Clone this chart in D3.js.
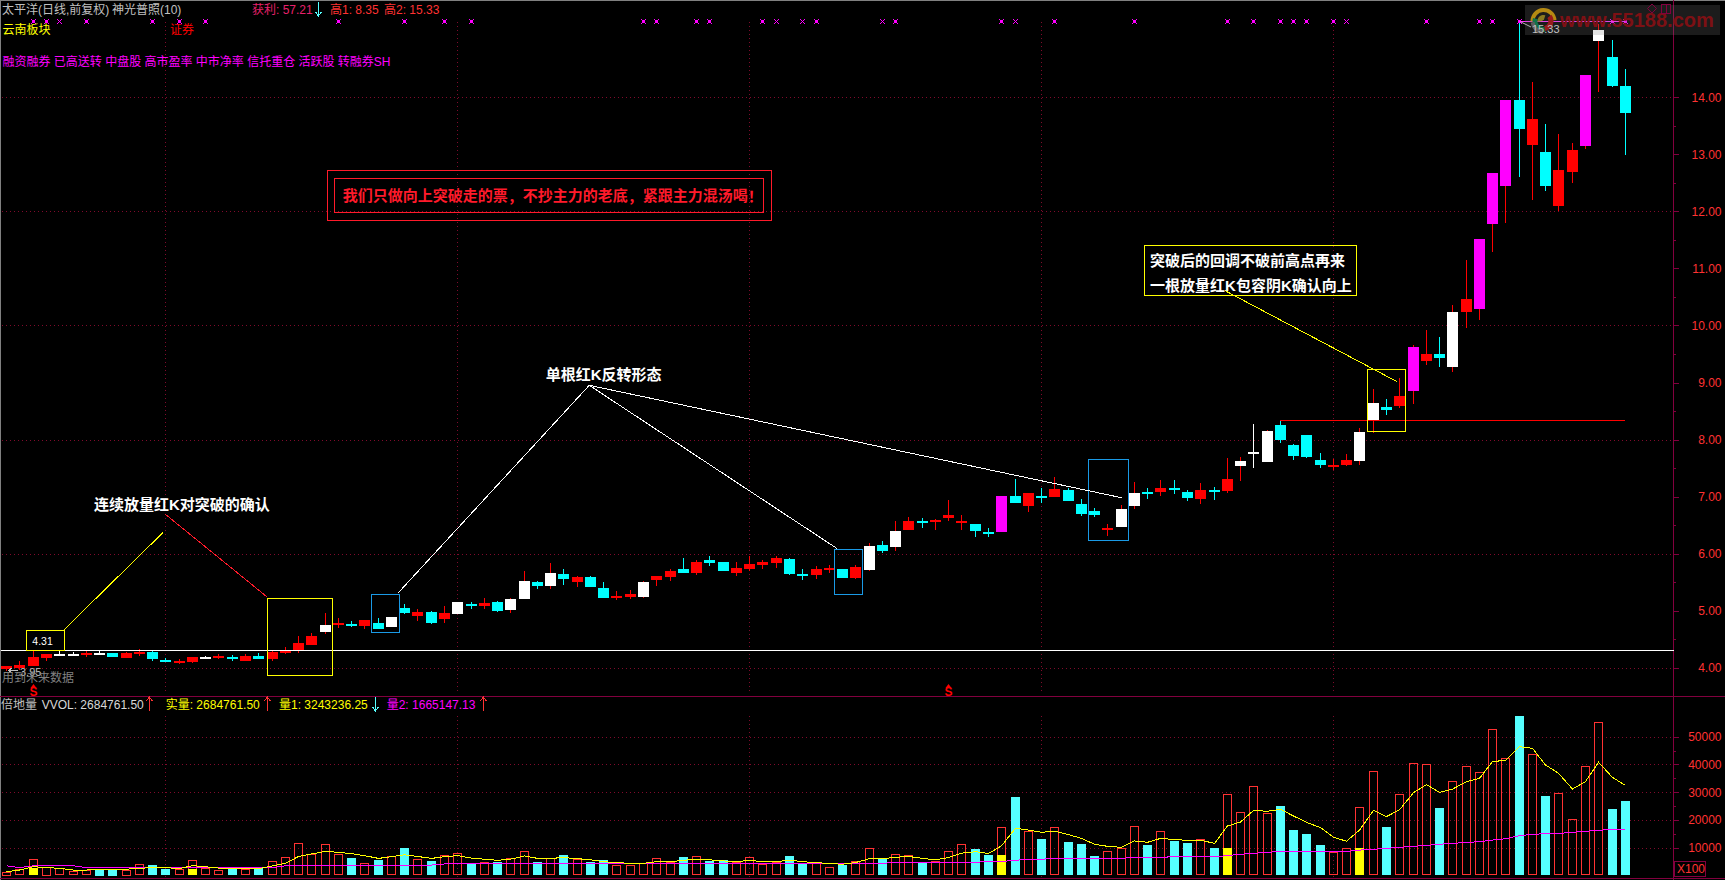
<!DOCTYPE html>
<html lang="zh">
<head>
<meta charset="utf-8">
<title>太平洋 日线 神光普照</title>
<script src="https://cdn.jsdelivr.net/npm/d3@7/dist/d3.min.js"></script>
<style>
  html, body { margin: 0; padding: 0; background: #000; overflow: hidden; }
  svg { display: block; }
  text { font-family: "Liberation Sans", "Noto Sans CJK SC", sans-serif; dominant-baseline: central; }
  .crisp, .crisp * { shape-rendering: crispEdges; }
</style>
</head>
<body>
<svg id="chart" width="1725" height="880"></svg>
<script>
// Candle kinds: r red, c cyan, w white body with red wick, W all-white doji, m magenta body with red wick
const candleKinds = (
  "rrrrWWrWcr" + "rccrrWrcrc" + "rrrrwrcrcw" + "crcrwcrcww" + "cwcrccrrwr" +
  "rcrccrrrrc" + "crrcrwcwrc" + "rrrccmcrcr" + "cccrwwcrcc" + "rcrwWwcccc" +
  "rrwwcrmrcw" + "rmmmcrcrrm" + "wcc").split("");

const bodyUpper = [
  4.03,4.05,4.19,4.24,4.245,4.245,4.26,4.265,4.26,4.26,
  4.28,4.28,4.14,4.12,4.18,4.185,4.205,4.19,4.205,4.205,
  4.275,4.29,4.43,4.555,4.75,4.78,4.76,4.84,4.78,4.89,
  5.05,4.98,4.98,4.96,5.15,5.11,5.135,5.152,5.205,5.52,
  5.50,5.66,5.643,5.59,5.59,5.40,5.257,5.29,5.50,5.61,
  5.695,5.73,5.853,5.89,5.853,5.748,5.82,5.853,5.923,5.906,
  5.643,5.73,5.74,5.73,5.766,6.133,6.15,6.397,6.57,6.57,
  6.59,6.677,6.57,6.52,6.38,7.01,7.01,7.06,7.01,7.133,
  7.115,6.87,6.747,6.45,6.78,7.063,7.08,7.15,7.15,7.08,
  7.115,7.115,7.308,7.62,7.787,8.15,8.249,7.904,8.08,7.641,
  7.553,7.641,8.132,8.64,8.57,8.763,9.62,9.499,9.499,10.236,
  10.464,11.516,12.673,13.953,13.953,13.62,13.04,12.725,13.076,14.39,
  15.18,14.706,14.198];

const bodyLower = [
  3.97,4.00,4.03,4.17,4.235,4.235,4.23,4.255,4.19,4.175,
  4.245,4.15,4.10,4.09,4.10,4.175,4.175,4.16,4.12,4.15,
  4.15,4.26,4.31,4.40,4.625,4.75,4.75,4.73,4.68,4.71,
  4.96,4.91,4.78,4.85,4.94,5.10,5.082,4.994,5.012,5.205,
  5.43,5.43,5.555,5.50,5.415,5.22,5.22,5.24,5.24,5.54,
  5.59,5.66,5.66,5.836,5.695,5.66,5.73,5.80,5.836,5.643,
  5.608,5.625,5.72,5.573,5.573,5.713,6.046,6.116,6.414,6.537,
  6.555,6.625,6.537,6.397,6.344,6.38,6.887,6.835,6.98,6.993,
  6.923,6.695,6.677,6.414,6.467,6.835,7.045,7.08,7.115,6.975,
  6.957,7.08,7.098,7.536,7.764,7.606,7.99,7.711,7.694,7.553,
  7.518,7.553,7.624,8.343,8.518,8.588,8.85,9.377,9.43,9.27,
  10.236,10.288,11.78,12.445,13.444,13.163,12.445,12.094,12.69,13.146,
  14.987,14.198,13.725];

const highs = [
  4.03,4.11,4.31,4.24,4.29,4.28,4.29,4.30,4.26,4.28,
  4.33,4.30,4.175,4.15,4.18,4.21,4.24,4.23,4.24,4.26,
  4.31,4.37,4.555,4.61,4.96,4.88,4.81,4.84,4.87,4.89,
  5.12,5.03,5.00,5.08,5.15,5.15,5.22,5.17,5.22,5.695,
  5.52,5.836,5.73,5.61,5.61,5.50,5.345,5.36,5.52,5.61,
  5.73,5.92,5.89,5.96,5.853,5.853,5.96,5.89,5.96,5.92,
  5.73,5.783,5.80,5.73,5.80,6.186,6.22,6.57,6.64,6.625,
  6.607,6.94,6.677,6.52,6.45,7.01,7.308,7.06,7.15,7.343,
  7.15,6.957,6.80,6.52,6.85,7.256,7.15,7.29,7.29,7.115,
  7.24,7.168,7.676,7.694,8.27,8.17,8.34,7.92,8.08,7.758,
  7.66,7.746,8.202,8.886,8.71,9.08,9.657,9.92,9.797,10.36,
  11.148,11.516,12.673,13.953,15.33,14.27,13.53,13.357,13.2,14.39,
  15.285,15.0,14.5];

const lows = [
  3.95,3.96,4.03,4.12,4.205,4.205,4.19,4.245,4.19,4.17,
  4.205,4.12,4.10,4.065,4.08,4.15,4.15,4.12,4.11,4.15,
  4.12,4.245,4.26,4.40,4.59,4.70,4.70,4.68,4.68,4.71,
  4.94,4.82,4.78,4.78,4.94,5.03,5.03,4.977,4.96,5.205,
  5.38,5.38,5.45,5.415,5.415,5.22,5.187,5.205,5.22,5.43,
  5.52,5.66,5.625,5.78,5.695,5.61,5.695,5.73,5.748,5.625,
  5.54,5.555,5.66,5.573,5.555,5.70,6.01,6.046,6.414,6.45,
  6.414,6.57,6.414,6.29,6.29,6.38,6.887,6.73,6.887,6.993,
  6.923,6.66,6.64,6.31,6.467,6.78,6.957,7.01,7.045,6.923,
  6.87,6.94,7.063,7.273,7.50,7.606,7.94,7.64,7.676,7.50,
  7.465,7.536,7.553,8.115,8.43,8.553,8.623,9.306,9.27,9.184,
  9.955,10.096,11.288,11.796,12.6,12.2,12.357,12.0,12.497,13.093,
  14.093,14.18,13.0];

// Volume bars, in units of 100 shares: u hollow red, d solid cyan
const volumeKinds = (
  "uuuuuuuddu" + "udduuuudud" + "uuuuuududu" + "duduududuu" + "dududduuuu" +
  "ududduuuud" + "duuduuduud" + "uuuddududu" + "ddduuududd" + "uduuuudddd" +
  "uuuuduuudu" + "uuuududuuu" + "udd").split("");

const volumes = [
  1300,2200,5800,3100,2500,1600,1800,2000,2000,2000,
  4000,3700,2300,2300,5400,2600,1800,2500,2200,2600,
  5000,6500,11500,7600,11200,7600,6200,4300,5500,6800,
  9900,5800,5200,7200,7900,4400,4700,4800,6100,8600,
  4800,6100,7300,5800,4800,5500,3600,3600,4300,6100,
  4800,6600,6800,5200,5500,4800,6500,4000,4800,7000,
  4300,4300,2900,3700,5000,9700,6100,7600,7200,4700,
  5000,8600,11200,9500,7300,17300,28200,15900,13100,17300,
  12000,11300,7000,8600,9700,17700,10900,15900,12400,11700,
  13000,9900,29200,22700,32100,22400,24900,16300,14900,10900,
  8400,9700,24500,37500,17400,29200,40400,40000,24300,33900,
  39300,37100,52700,42200,57500,43600,28600,29600,20200,39300,
  55200,23900,26847.6];

// Solid yellow portion of a few volume bars
const yellowBarIndex = [2, 14, 75, 92, 102];
const yellowBarValue = [2500, 2200, 7300, 9900, 9900];

const volumeFast = [
  1300,1900,3100,2800,2500,1900,1900,2200,2200,2200,
  2500,2800,2800,2400,3500,3100,2600,2300,2300,2400,
  3400,4300,6800,7700,8600,8300,7800,7100,6100,6700,
  7400,6800,6100,6700,7100,6200,5800,5400,5800,7000,
  6100,6100,6400,6000,5600,4900,4600,4300,4300,4900,
  4900,5400,5800,5600,5200,4900,5400,4900,4900,5500,
  4900,4600,4200,4000,4600,6000,6000,6500,6800,6100,
  5600,6400,8000,8500,7900,10600,17000,16300,15500,15900,
  14700,13300,11200,10450,10100,12400,11900,13300,12900,12600,
  12700,11500,17800,19200,23400,23100,23800,21400,19100,17200,
  13700,12300,16300,23400,21200,23600,29800,32700,29900,31100,
  33800,35000,41000,41500,46400,45800,39800,36800,31100,33800,
  40800,35300,32432.36];

const volumeSlow = [
  3400,2800,3400,3400,3400,3400,2800,2800,2800,2800,
  2800,2800,2800,2800,2800,2800,2800,2800,2800,2800,
  2800,3400,3400,3400,3400,3700,3700,3700,3700,3700,
  3700,3700,3700,4100,4100,4100,4100,4100,4100,4100,
  4300,4300,4300,4300,4300,4300,4300,4300,4300,4300,
  4300,4300,4300,4300,4300,4300,4300,4300,4300,4300,
  4300,4300,4300,4300,4300,4300,4300,4700,4700,4700,
  4700,4700,4700,4700,5000,5000,5400,5800,5800,6100,
  6100,6100,6100,6100,6100,6500,6500,6500,6700,6700,
  6700,6700,7100,7600,7900,8300,8600,8600,8600,8600,
  8600,8600,9100,9400,9700,10100,10450,10800,11200,11500,
  11900,12100,12700,13200,14300,14800,15000,15100,15500,15900,
  16200,16600,16651.47];

// Signal crosses along the top row, by candle index
const crossIndex = [2,3,4,6,11,13,15,25,30,33,35,48,49,52,53,57,58,60,61,66,67,75,76,79,85,92,94,96,97,98,100,101,107,111,112,114,121,122];
const smallCrossIndex = [4,58,60,66,76,101];
const sellSignalIndex = [2, 71];

// Axis ticks and reference levels
const priceMajorTicks = [4,5,6,7,8,9,10,11,12,13,14];
const priceMinorTicks = [4.5,5.5,6.5,7.5,8.5,9.5,10.5,11.5,12.5,13.5];
const priceGridTicks = [4,6,8,10,12,14];
const volumeMajorTicks = [10000,20000,30000,40000,50000];
const volumeMinorTicks = [5000,15000,25000,35000,45000];
const timeGridIndex = [12,34,56,78,100];
const supportLevel = 4.31;
const firstHigh = 8.35;
const secondHigh = 15.33;
const lowLabel = 3.95;

// Drawn study: rectangles as [index0, index1, priceTop, priceBottom, colour]
const studyBoxes = [
  [1.48, 4.34, 4.656, 4.305, "#ffff00"],
  [19.64, 24.57, 5.217, 3.86, "#ffff00"],
  [27.48, 29.62, 5.292, 4.62, "#1a9ae6"],
  [62.38, 64.52, 6.076, 5.28, "#1a9ae6"],
  [81.53, 84.57, 7.654, 6.227, "#1a9ae6"],
  [102.56, 105.45, 9.231, 8.138, "#ffff00"],
  [85.72, 101.68, 11.405, 10.522, "#ffff00"],
  [24.16, 57.59, 12.72, 11.837, "#ff1a2a"],
  [24.69, 57.06, 12.58, 11.984, "#ff1a2a"]
];

// Drawn study: segments as [index0, price0, index1, price1, colour]
const studyLines = [
  [4.34, 4.67, 11.8, 6.374, "#ffff00"],
  [11.93, 6.695, 19.6, 5.245, "#ff1a2a"],
  [29.52, 5.315, 43.91, 8.951, "#ffffff"],
  [43.91, 8.951, 62.56, 6.093, "#ffffff"],
  [43.91, 8.951, 84.04, 6.98, "#ffffff"],
  [91.83, 10.61, 104.8, 9.014, "#ffff00"]
];

// Drawn study: captions as [index, price, text, colour]
const studyLabels = [
  [6.58, 6.87, "连续放量红K对突破的确认", "#ffffff"],
  [40.63, 9.144, "单根红K反转形态", "#ffffff"],
  [25.33, 12.282, "我们只做向上突破走的票，不抄主力的老底，紧跟主力混汤喝！", "#ff1a2a"],
  [86.18, 11.148, "突破后的回调不破前高点再来", "#ffffff"],
  [86.18, 10.71, "一根放量红K包容阴K确认向上", "#ffffff"]
];

// Scales
const xScale = d3.scaleLinear().domain([0, 122]).range([6.7, 1625.3]);
const yPrice = d3.scaleLinear().domain([4, 14]).range([667.7, 97.3]);
const yVolume = d3.scaleLinear().domain([0, 50000]).range([875.3, 736.7]);
const axisX = 1673.5;
const panelDivider = 696.5;
const panelBottom = 878.5;
const frameColour = "#82003e";
const gridColour = "#800a2c";
const labelRed = "#ff3232";
const cyan = "#00ffff";
const red = "#ff0000";
const magenta = "#ff00ff";
const px = i => Math.floor(xScale(i));

const svg = d3.select("#chart");
svg.append("rect").attr("width", 1725).attr("height", 880).attr("fill", "#000");

// Frame
const frame = svg.append("g").attr("class", "crisp");
frame.append("line").attr("x1", 0).attr("x2", 1725).attr("y1", 0.5).attr("y2", 0.5).attr("stroke", "#808080");
frame.append("line").attr("x1", 0.5).attr("x2", 0.5).attr("y1", 0).attr("y2", 880).attr("stroke", "#808080");
[panelDivider, panelBottom].forEach(y =>
  frame.append("line").attr("x1", 0).attr("x2", 1725).attr("y1", y).attr("y2", y).attr("stroke", frameColour));
frame.append("line").attr("x1", axisX).attr("x2", axisX).attr("y1", 0).attr("y2", 880).attr("stroke", frameColour);

// Dotted grid
const grid = svg.append("g").attr("class", "crisp")
  .attr("stroke", gridColour).attr("stroke-dasharray", "1,3");
grid.selectAll("line.price").data(priceGridTicks).join("line")
  .attr("class", "price").attr("x1", 2).attr("x2", axisX)
  .attr("y1", d => Math.round(yPrice(d)) + 0.5).attr("y2", d => Math.round(yPrice(d)) + 0.5);
grid.selectAll("line.vol").data(volumeMajorTicks).join("line")
  .attr("class", "vol").attr("x1", 2).attr("x2", axisX)
  .attr("y1", d => Math.round(yVolume(d)) + 0.5).attr("y2", d => Math.round(yVolume(d)) + 0.5);
grid.selectAll("line.tp").data(timeGridIndex).join("line")
  .attr("class", "tp").attr("y1", 22).attr("y2", panelDivider - 3)
  .attr("x1", d => px(d) + 0.5).attr("x2", d => px(d) + 0.5);
grid.selectAll("line.tv").data(timeGridIndex).join("line")
  .attr("class", "tv").attr("y1", 716).attr("y2", panelBottom)
  .attr("x1", d => px(d) + 0.5).attr("x2", d => px(d) + 0.5);

// Right-hand axes
function drawAxis(scale, major, minor, format) {
  const g = svg.append("g").attr("class", "crisp").attr("transform", `translate(${axisX},0)`);
  g.call(d3.axisRight(scale).tickValues(major).tickSize(5).tickFormat(format));
  g.append("g").call(d3.axisRight(scale).tickValues(minor).tickSize(2).tickFormat(""));
  g.selectAll(".domain").remove();
  g.selectAll("line").attr("stroke", frameColour);
  g.selectAll("text")
    .attr("x", 48).attr("dy", null).attr("fill", labelRed).attr("text-anchor", "end")
    .style("font-size", "12px").style("font-family", '"Liberation Sans"');
}
drawAxis(yPrice, priceMajorTicks, priceMinorTicks, d3.format(".2f"));
drawAxis(yVolume, volumeMajorTicks, volumeMinorTicks, d3.format("d"));

// Candles
const bodyColour = { r: red, c: cyan, w: "#ffffff", W: "#ffffff", m: magenta };
const wickColour = { r: red, c: cyan, w: red, W: "#ffffff", m: red };
const candles = d3.range(candleKinds.length);
const candleLayer = svg.append("g").attr("class", "crisp");
candleLayer.selectAll("rect.wick").data(candles).join("rect")
  .attr("class", "wick")
  .attr("x", i => px(i)).attr("width", 1)
  .attr("y", i => Math.round(yPrice(highs[i])))
  .attr("height", i => Math.max(1, Math.round(yPrice(lows[i]) - yPrice(highs[i]))))
  .attr("fill", i => wickColour[candleKinds[i]]);
candleLayer.selectAll("rect.body").data(candles).join("rect")
  .attr("class", "body")
  .attr("x", i => px(i) - 5).attr("width", 11)
  .attr("y", i => Math.round(yPrice(bodyUpper[i])))
  .attr("height", i => Math.max(2, Math.round(yPrice(bodyLower[i]) - yPrice(bodyUpper[i]))))
  .attr("fill", i => bodyColour[candleKinds[i]]);

// Signal crosses on the top row
const crossRow = svg.append("g").attr("class", "crisp");
const crossPath = d3.symbol().type(d3.symbolTimes);
crossRow.selectAll("path").data(crossIndex).join("path")
  .attr("transform", i => `translate(${px(i) + 0.5},21.5)`)
  .attr("d", i => crossPath.size(smallCrossIndex.includes(i) ? 14 : 22)())
  .attr("fill", "none").attr("stroke", magenta).attr("stroke-width", 1);
crossRow.selectAll("rect").data(crossIndex.filter(i => !smallCrossIndex.includes(i))).join("rect")
  .attr("x", i => px(i) - 1).attr("y", 20).attr("width", 3).attr("height", 3).attr("fill", magenta);

// Reference levels
const levels = svg.append("g").attr("class", "crisp");
levels.append("line").attr("x1", 1).attr("x2", axisX)
  .attr("y1", Math.round(yPrice(supportLevel)) + 0.5).attr("y2", Math.round(yPrice(supportLevel)) + 0.5)
  .attr("stroke", "#ffffff");
levels.append("line").attr("x1", xScale(96)).attr("x2", xScale(122))
  .attr("y1", Math.round(yPrice(firstHigh)) + 0.5).attr("y2", Math.round(yPrice(firstHigh)) + 0.5)
  .attr("stroke", red);
levels.append("line").attr("x1", xScale(114)).attr("x2", xScale(122))
  .attr("y1", Math.round(yPrice(secondHigh)) + 0.5).attr("y2", Math.round(yPrice(secondHigh)) + 0.5)
  .attr("stroke", "#ff33ff");

// Study rectangles, segments and captions
const study = svg.append("g");
study.selectAll("rect").data(studyBoxes).join("rect").attr("class", "crisp")
  .attr("x", d => Math.round(xScale(d[0])) + 0.5)
  .attr("width", d => Math.round(xScale(d[1]) - xScale(d[0])))
  .attr("y", d => Math.round(yPrice(d[2])) + 0.5)
  .attr("height", d => Math.round(yPrice(d[3]) - yPrice(d[2])))
  .attr("fill", "none").attr("stroke", d => d[4]);
study.selectAll("line").data(studyLines).join("line").attr("class", "crisp")
  .attr("x1", d => xScale(d[0])).attr("y1", d => yPrice(d[1]))
  .attr("x2", d => xScale(d[2])).attr("y2", d => yPrice(d[3]))
  .attr("stroke", d => d[4]);
const captions = study.selectAll("text").data(studyLabels).join("text")
  .attr("x", d => xScale(d[0])).attr("y", d => yPrice(d[1]))
  .attr("fill", d => d[3]).attr("font-size", 15).attr("font-weight", 700);
// Full-width punctuation sits centred in its cell, as in traditional typesetting
captions.selectAll("tspan").data(d => d[2].split(/([，！])/).filter(s => s.length)).join("tspan")
  .style("font-family", s => /[，！]/.test(s) ? '"Noto Sans CJK TC"' : null)
  .text(s => s);

// Value tag on the support level
study.append("text")
  .attr("x", xScale(1.48) + 6).attr("y", (yPrice(4.656) + yPrice(4.305)) / 2 + 1)
  .attr("fill", "#ffffff").attr("font-size", 10.5).text(String(supportLevel));

// Volume bars, yellow portions and the two averages
const volumeLayer = svg.append("g").attr("class", "crisp");
const volIdx = d3.range(volumes.length);
volumeLayer.selectAll("rect.down").data(volIdx.filter(i => volumeKinds[i] === "d")).join("rect")
  .attr("class", "down")
  .attr("x", i => px(i) - 4).attr("width", 9)
  .attr("y", i => Math.round(yVolume(volumes[i])))
  .attr("height", i => Math.round(yVolume(0) - yVolume(volumes[i])))
  .attr("fill", "#55ffff");
volumeLayer.selectAll("rect.up").data(volIdx.filter(i => volumeKinds[i] === "u")).join("rect")
  .attr("class", "up")
  .attr("x", i => px(i) - 3.5).attr("width", 8)
  .attr("y", i => Math.round(yVolume(volumes[i])) + 0.5)
  .attr("height", i => Math.round(yVolume(0) - yVolume(volumes[i])) - 1)
  .attr("fill", "none").attr("stroke", labelRed);
volumeLayer.selectAll("rect.flag").data(yellowBarIndex).join("rect")
  .attr("class", "flag")
  .attr("x", i => px(i) - 4).attr("width", 9)
  .attr("y", (i, k) => Math.round(yVolume(yellowBarValue[k])))
  .attr("height", (i, k) => Math.round(yVolume(0) - yVolume(yellowBarValue[k])))
  .attr("fill", "#ffff00");
const volumeLine = d3.line().x((d, i) => px(i) + 0.5).y(d => yVolume(d));
volumeLayer.append("path").attr("d", volumeLine(volumeSlow)).attr("fill", "none").attr("stroke", magenta);
volumeLayer.append("path").attr("d", volumeLine(volumeFast)).attr("fill", "none").attr("stroke", "#ffff00");

// Text helpers
function put(x, y, str, fill, size) {
  return svg.append("text").attr("x", x).attr("y", y).attr("fill", fill)
    .attr("font-size", size || 12).text(str);
}
function arrow(x, yFrom, yTo, colour) {
  const dir = yTo < yFrom ? 1 : -1;
  svg.append("path").attr("class", "crisp")
    .attr("d", `M${x},${yFrom}V${yTo}M${x - 3},${yTo + 4 * dir}L${x},${yTo}L${x + 3},${yTo + 4 * dir}`)
    .attr("fill", "none").attr("stroke", colour);
}

// Price panel header
const headGrey = "#c0c0c0";
const profitPink = "#e8206c";
put(2, 10, "太平洋(日线,前复权)", headGrey);
put(112, 10, "神光普照(10)", headGrey);
put(252, 10, "获利: 57.21", profitPink);
arrow(318.5, 2, 16, "#55ffff");
put(330, 10, `高1: ${firstHigh}`, labelRed);
put(384, 10, `高2: ${secondHigh}`, labelRed);
put(2.5, 30, "云南板块", "#ffff00");
put(170, 30, "证券", red);
put(2.5, 62, "融资融券 已高送转 中盘股 高市盈率 中市净率 信托重仓 活跃股 转融券SH", magenta);

// Low marker, future-data note and sell signals
svg.append("path").attr("class", "crisp")
  .attr("d", "M8,670.5H18M8,670.5L12,668M8,670.5L12,673")
  .attr("fill", "none").attr("stroke", headGrey);
put(20, 672, String(lowLabel), headGrey, 11);
put(2, 678, "用到未来数据", "#808080");
sellSignalIndex.forEach(i => {
  put(px(i) + 0.5, 691.5, "S", red, 12).attr("text-anchor", "middle").attr("font-weight", 700);
  svg.append("path").attr("d", `M${px(i) + 0.5},684L${px(i) - 2.5},688H${px(i) + 3.5}Z`).attr("fill", red);
});

// Volume panel header
put(1, 704.5, "倍地量", headGrey);
put(41.7, 704.5, "VVOL: 2684761.50", "#d8d8d8");
arrow(149.5, 711, 697, labelRed);
put(165.7, 704.5, "实量: 2684761.50", "#ffff00");
arrow(267.5, 711, 697, labelRed);
put(279, 704.5, "量1: 3243236.25", "#ffff00");
arrow(375.5, 697, 711, "#55ffff");
put(386.7, 704.5, "量2: 1665147.13", magenta);
arrow(483.5, 711, 697, labelRed);

// Units tag under the volume axis
svg.append("rect").attr("class", "crisp").attr("x", 1674.5).attr("y", 861.5).attr("width", 31).attr("height", 15)
  .attr("fill", "none").attr("stroke", frameColour);
put(1677, 869, "X100", labelRed);

// High tag
svg.append("line").attr("x1", 1521).attr("y1", 22).attr("x2", 1531).attr("y2", 27).attr("stroke", headGrey);

// Site badge in the corner
const badge = svg.append("g");
badge.append("rect").attr("x", 1525).attr("y", 5).attr("width", 195).attr("height", 30)
  .attr("fill", "#808080").attr("opacity", 0.22);
const swirl = d3.arc();
[
  [13, 9, -1.6, 1.5, "#b58a12"],
  [10, 5, 0.9, 3.0, "#9a1c1c"],
  [11, 6, 3.0, 5.0, "#12724a"],
  [13, 9, 3.2, 4.6, "#5e5e5e"],
  [6, 1, 4.6, 6.6, "#8a7a20"]
].forEach(a => {
  badge.append("path").attr("transform", "translate(1543.5,21)")
    .attr("d", swirl({ innerRadius: a[1], outerRadius: a[0], startAngle: a[2], endAngle: a[3] }))
    .attr("fill", a[4]);
});
badge.append("text").attr("x", 1560).attr("y", 20).attr("fill", "#7e1014")
  .attr("font-size", 20).attr("font-weight", 700).text("www.55188.com");
put(1532, 29, String(secondHigh), headGrey, 11);
svg.append("path").attr("d", "M1652,4L1656.5,8.5L1652,13L1647.5,8.5Z").attr("fill", "none").attr("stroke", "#82003e");
svg.append("path").attr("class", "crisp").attr("d", "M1661.5,4.5H1670.5V13.5H1661.5ZM1666,4.5V13.5").attr("fill", "none").attr("stroke", "#82003e");
</script>
</body>
</html>
